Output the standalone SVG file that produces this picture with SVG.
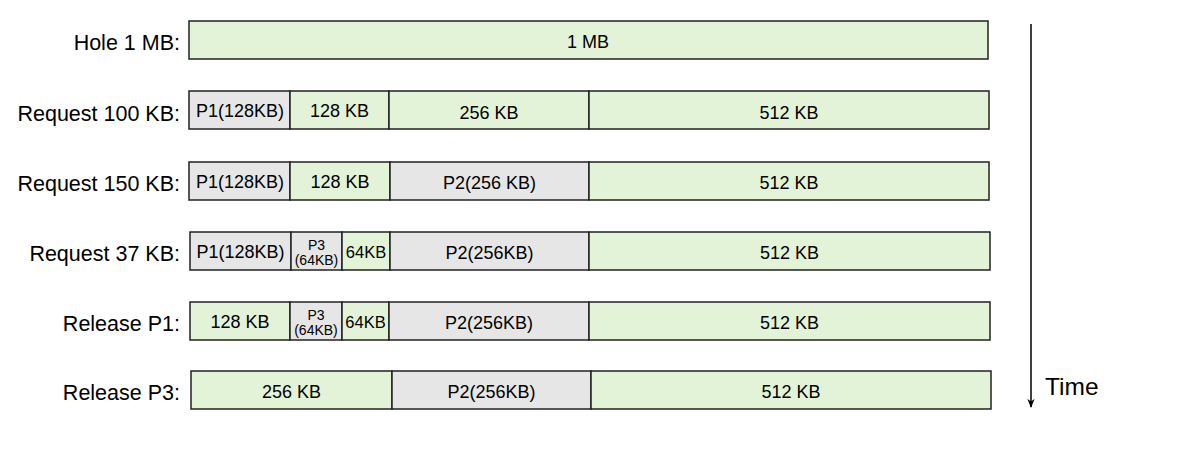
<svg xmlns="http://www.w3.org/2000/svg" width="1200" height="450" viewBox="0 0 1200 450">
<style>
.g{fill:#e3f3d8;stroke:#222;stroke-width:1.5}
.p{fill:#e6e6e6;stroke:#222;stroke-width:1.5}
.lbl{font-family:"Liberation Sans",Arial,sans-serif;font-size:21.5px;fill:#000;text-anchor:end}
.t{font-family:"Liberation Sans",Arial,sans-serif;font-size:18px;fill:#000;text-anchor:middle}
.n{font-size:16.5px}
.s{font-family:"Liberation Sans",Arial,sans-serif;font-size:14px;fill:#000;text-anchor:middle}
</style>
<defs>
<marker id="ah" viewBox="0 0 10 10" refX="9" refY="5" markerWidth="9" markerHeight="9" orient="auto" markerUnits="userSpaceOnUse">
<path d="M0,1 L10,5 L0,9 L3,5 Z" fill="#000"/>
</marker>
</defs>
<g id="labels">
<text class="lbl" x="180" y="50">Hole 1 MB:</text>
<text class="lbl" x="180" y="120.5">Request 100 KB:</text>
<text class="lbl" x="180" y="191">Request 150 KB:</text>
<text class="lbl" x="180" y="261">Request 37 KB:</text>
<text class="lbl" x="180" y="331">Release P1:</text>
<text class="lbl" x="180" y="400">Release P3:</text>
</g>
<g id="row1">
<rect class="g" x="189" y="21" width="799" height="38"/>
<text class="t" x="588" y="48">1 MB</text>
</g>
<g id="row2">
<rect class="p" x="189" y="91" width="101" height="38"/>
<text class="t" x="240" y="117">P1(128KB)</text>
<rect class="g" x="290" y="91" width="99" height="38"/>
<text class="t" x="339.5" y="117">128 KB</text>
<rect class="g" x="389" y="91" width="200" height="38"/>
<text class="t" x="489" y="119">256 KB</text>
<rect class="g" x="589" y="91" width="400" height="38"/>
<text class="t" x="789" y="119">512 KB</text>
</g>
<g id="row3">
<rect class="p" x="189" y="162" width="101" height="38"/>
<text class="t" x="240" y="188">P1(128KB)</text>
<rect class="g" x="290" y="162" width="100" height="38"/>
<text class="t" x="340" y="188">128 KB</text>
<rect class="p" x="390" y="162" width="199" height="38"/>
<text class="t" x="489.5" y="189">P2(256 KB)</text>
<rect class="g" x="589" y="162" width="400" height="38"/>
<text class="t" x="789" y="189">512 KB</text>
</g>
<g id="row4">
<rect class="p" x="190" y="232" width="101" height="38"/>
<text class="t" x="240.5" y="258">P1(128KB)</text>
<rect class="p" x="291" y="232" width="51" height="38"/>
<text class="s" x="316.5" y="250">P3</text>
<text class="s" x="316.5" y="265">(64KB)</text>
<rect class="g" x="342" y="232" width="48" height="38"/>
<text class="t n" x="366" y="258">64KB</text>
<rect class="p" x="390" y="232" width="199" height="38"/>
<text class="t" x="489.5" y="259">P2(256KB)</text>
<rect class="g" x="589" y="232" width="401" height="38"/>
<text class="t" x="789.5" y="259">512 KB</text>
</g>
<g id="row5">
<rect class="g" x="190" y="302" width="100" height="38"/>
<text class="t" x="240" y="328">128 KB</text>
<rect class="p" x="290" y="302" width="52" height="38"/>
<text class="s" x="316" y="320">P3</text>
<text class="s" x="316" y="335">(64KB)</text>
<rect class="g" x="342" y="302" width="47" height="38"/>
<text class="t n" x="365.5" y="328">64KB</text>
<rect class="p" x="389" y="302" width="200" height="38"/>
<text class="t" x="489" y="329">P2(256KB)</text>
<rect class="g" x="589" y="302" width="401" height="38"/>
<text class="t" x="789.5" y="329">512 KB</text>
</g>
<g id="row6">
<rect class="g" x="191" y="371" width="201" height="38"/>
<text class="t" x="291.5" y="398">256 KB</text>
<rect class="p" x="392" y="371" width="199" height="38"/>
<text class="t" x="491.5" y="398">P2(256KB)</text>
<rect class="g" x="591" y="371" width="400" height="38"/>
<text class="t" x="791" y="398">512 KB</text>
</g>
<g id="connectors">
<line x1="1031" y1="24" x2="1031" y2="407" stroke="#000" stroke-width="1.5" marker-end="url(#ah)"/>
<text x="1045" y="395" font-family="Liberation Sans, Arial, sans-serif" font-size="24.5">Time</text>
</g>
</svg>
